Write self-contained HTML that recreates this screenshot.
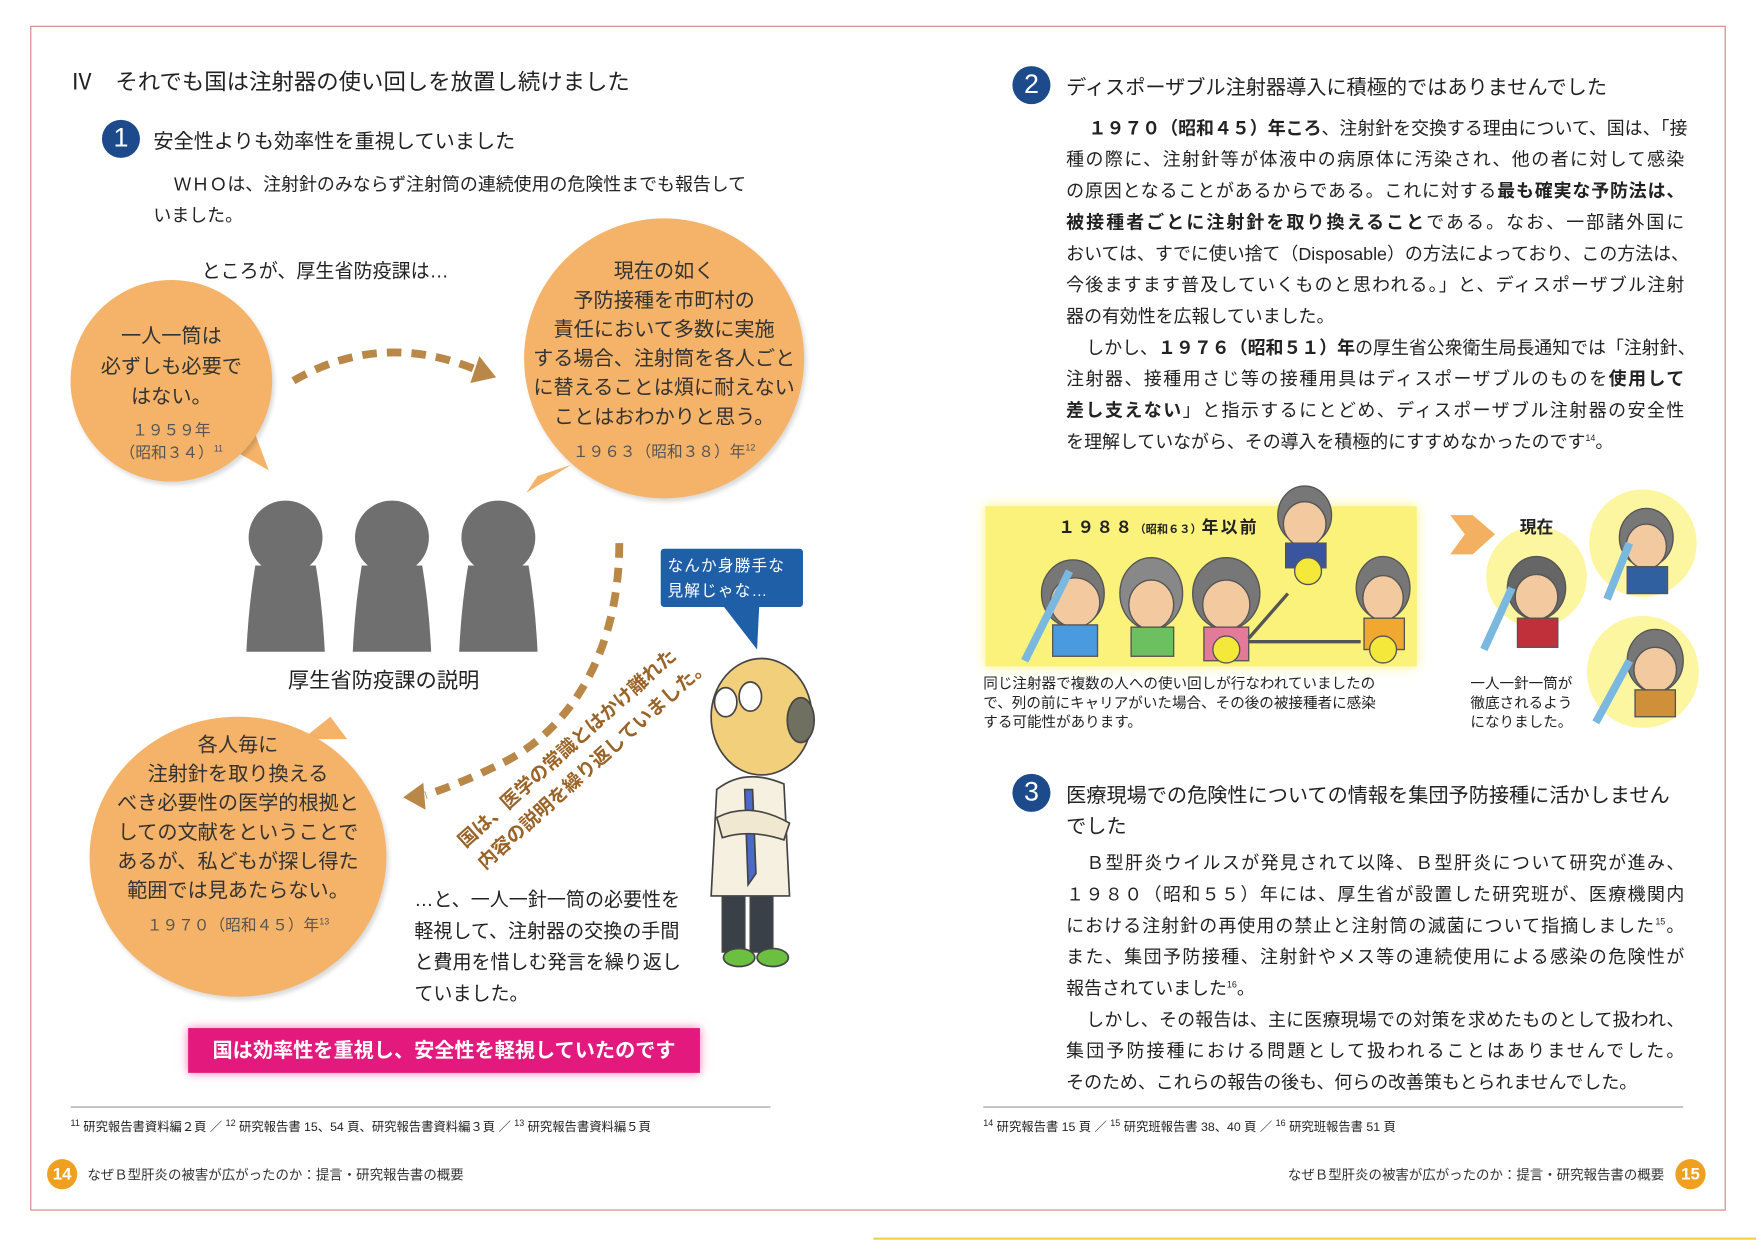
<!DOCTYPE html>
<html><head><meta charset="utf-8">
<style>
html,body{margin:0;padding:0;background:#fff;width:1756px;height:1242px;overflow:hidden}
#p{position:absolute;left:0;top:0;width:1568px;height:1109px;transform:scale(1.1199);transform-origin:0 0;font-family:"Liberation Sans","Noto Sans CJK JP",sans-serif;color:#222}
.a{position:absolute;white-space:nowrap}
.num{position:absolute;width:34px;height:34px;border-radius:50%;background:#1d4a8a;color:#fff;font-size:24px;text-align:center;line-height:34px}
.ln{position:absolute;left:952px;width:552px;font-size:16px;white-space:nowrap;text-align:justify;text-align-last:justify;height:28px;line-height:28px}
sup{line-height:0}
.b{font-weight:bold}
.bub{position:absolute;border-radius:50%;background:#f4b368;box-shadow:2px 3px 4px rgba(0,0,0,.15);text-align:center;color:#333}
</style></head><body><div id="p">
<div style="position:absolute;left:27px;top:23px;width:1512px;height:1056px;border:1px solid #d88080"></div>
<div style="position:absolute;left:780px;top:1105px;width:788px;height:2px;background:#f0d24a"></div>

<div class="a" style="left:63px;top:57px;font-size:20px;color:#222">Ⅳ　それでも国は注射器の使い回しを放置し続けました</div>
<div class="num" style="left:91px;top:107px">1</div>
<div class="a" style="left:137px;top:112px;font-size:18px">安全性よりも効率性を重視していました</div>
<div class="a" style="left:155px;top:152px;font-size:16px;line-height:28px">ＷＨＯは、注射針のみならず注射筒の連続使用の危険性までも報告して</div>
<div class="a" style="left:137px;top:180px;font-size:16px;line-height:28px">いました。</div>
<div class="a" style="left:180px;top:228px;font-size:17px">ところが、厚生省防疫課は…</div>

<svg class="a" style="left:0;top:0" width="780" height="1000">
<g fill="#f4b368">
<polygon points="205,400 240,420 225,380"/>
<polygon points="480,425 470,440 510,415"/>
<polygon points="295,640 310,660 270,660"/>
</g>
<g fill="none" stroke="#b98848" stroke-width="7" stroke-dasharray="13 9">
<path d="M262,340 Q340,295 425,330"/>
<path d="M553,485 C553,575 515,645 455,678 C420,696 395,705 380,710"/>
</g>
<polygon points="443,337 428,318 420,342" fill="#b98848"/>
<polygon points="360,712 378,699 380,723" fill="#b98848"/>
<g fill="#6f6f6f">
<circle cx="255" cy="480" r="33"/><path d="M228,505 Q222,540 220,582 H290 Q288,540 282,505 Z"/>
<circle cx="350" cy="480" r="33"/><path d="M323,505 Q317,540 315,582 H385 Q383,540 377,505 Z"/>
<circle cx="445" cy="480" r="33"/><path d="M418,505 Q412,540 410,582 H480 Q478,540 472,505 Z"/>
</g>
<polygon points="645,540 678,540 676,580" fill="#1e5fa8"/>
<g stroke="#444" stroke-width="1.5">
<rect x="645" y="770" width="20" height="80" fill="#3a4048"/>
<rect x="670" y="770" width="20" height="80" fill="#3a4048"/>
<ellipse cx="660" cy="855" rx="14" ry="8" fill="#6cc040"/>
<ellipse cx="690" cy="855" rx="14" ry="8" fill="#6cc040"/>
<path d="M640,705 Q665,685 700,700 L705,800 L635,800 Z" fill="#f5f0e0"/>
<path d="M665,705 L672,705 L675,780 L668,790 Z" fill="#4a6ac8"/>
<path d="M640,730 Q670,715 705,735 L700,750 Q670,740 645,748 Z" fill="#f0e8d0"/>
<ellipse cx="680" cy="640" rx="45" ry="52" fill="#f2cf7a"/>
<ellipse cx="715" cy="643" rx="12" ry="20" fill="#707060"/>
<ellipse cx="648" cy="627" rx="10" ry="13" fill="#fff"/>
<ellipse cx="670" cy="622" rx="10" ry="13" fill="#fff"/>
</g>
</svg>

<div class="bub" style="left:63px;top:250px;width:180px;height:180px">
<div style="padding-top:37px;font-size:18px;line-height:27px">一人一筒は<br>必ずしも必要で<br>はない。</div>
<div style="font-size:14px;line-height:20px;margin-top:6px;color:#555">１９５９年<br>（昭和３４）<sup style="font-size:8px">11</sup></div></div>
<div class="bub" style="left:468px;top:195px;width:250px;height:250px">
<div style="padding-top:34px;font-size:18px;line-height:26px">現在の如く<br>予防接種を市町村の<br>責任において多数に実施<br>する場合、注射筒を各人ごと<br>に替えることは煩に耐えない<br>ことはおわかりと思う。</div>
<div style="font-size:14px;margin-top:8px;color:#555">１９６３（昭和３８）年<sup style="font-size:8px">12</sup></div></div>
<div class="bub" style="left:80px;top:640px;width:265px;height:250px">
<div style="padding-top:12px;font-size:18px;line-height:26px">各人毎に<br>注射針を取り換える<br>べき必要性の医学的根拠と<br>しての文献をということで<br>あるが、私どもが探し得た<br>範囲では見あたらない。</div>
<div style="font-size:14px;margin-top:8px;color:#555">１９７０（昭和４５）年<sup style="font-size:8px">13</sup></div></div>

<div class="a" style="left:257px;top:593px;font-size:19px">厚生省防疫課の説明</div>
<div class="a" style="left:590px;top:490px;width:127px;height:52px;background:#1e5fa8;border-radius:3px;color:#fff;font-size:14px;line-height:22px;padding:4px 0 0 6px;box-sizing:border-box;letter-spacing:1px">なんか身勝手な<br>見解じゃな…</div>
<div class="a" style="left:388px;top:652px;width:256px;transform:rotate(-42deg);transform-origin:50% 50%;color:#9a6428;font-size:17px;font-weight:bold;line-height:26px;text-align:left">国は、医学の常識とはかけ離れた<br>内容の説明を繰り返していました。</div>

<div class="a" style="left:370px;top:790px;font-size:17px;line-height:28px">…と、一人一針一筒の必要性を<br>軽視して、注射器の交換の手間<br>と費用を惜しむ発言を繰り返し<br>ていました。</div>
<div class="a" style="left:168px;top:918px;width:457px;height:40px;background:#e3197e;box-shadow:0 0 8px #f07ab8;color:#fff;font-size:18px;font-weight:bold;line-height:40px;text-align:center">国は効率性を重視し、安全性を軽視していたのです</div>

<div class="a" style="left:63px;top:988px;width:625px;height:1px;background:#999"></div>
<div class="a" style="left:63px;top:998px;font-size:11px"><sup style="font-size:8px">11</sup> 研究報告書資料編２頁 ／ <sup style="font-size:8px">12</sup> 研究報告書 15、54 頁、研究報告書資料編３頁 ／ <sup style="font-size:8px">13</sup> 研究報告書資料編５頁</div>
<div class="a" style="left:42px;top:1035px;width:27px;height:27px;border-radius:50%;background:#f0a020;color:#fff;font-size:15px;font-weight:bold;text-align:center;line-height:27px">14</div>
<div class="a" style="left:78px;top:1040px;font-size:12px;color:#333">なぜＢ型肝炎の被害が広がったのか：提言・研究報告書の概要</div>

<div class="num" style="left:904px;top:59px">2</div>
<div class="a" style="left:952px;top:64px;font-size:18px">ディスポーザブル注射器導入に積極的ではありませんでした</div>
<div class="ln" style="top:102px;left:972px;width:532px"><span class="b">１９７０（昭和４５）年ころ</span>、注射針を交換する理由について、国は、「接</div>
<div class="ln" style="top:130px">種の際に、注射針等が体液中の病原体に汚染され、他の者に対して感染</div>
<div class="ln" style="top:158px">の原因となることがあるからである。これに対する<span class="b">最も確実な予防法は、</span></div>
<div class="ln" style="top:186px"><span class="b">被接種者ごとに注射針を取り換えること</span>である。なお、一部諸外国に</div>
<div class="ln" style="top:214px">おいては、すでに使い捨て（Disposable）の方法によっており、この方法は、</div>
<div class="ln" style="top:242px">今後ますます普及していくものと思われる。」と、ディスポーザブル注射</div>
<div class="ln" style="top:270px;text-align-last:left">器の有効性を広報していました。</div>
<div class="ln" style="top:298px;left:970px;width:534px">しかし、<span class="b">１９７６（昭和５１）年</span>の厚生省公衆衛生局長通知では「注射針、</div>
<div class="ln" style="top:326px">注射器、接種用さじ等の接種用具はディスポーザブルのものを<span class="b">使用して</span></div>
<div class="ln" style="top:354px"><span class="b">差し支えない</span>」と指示するにとどめ、ディスポーザブル注射器の安全性</div>
<div class="ln" style="top:382px;text-align-last:left">を理解していながら、その導入を積極的にすすめなかったのです<sup style="font-size:8px">14</sup>。</div>

<div class="a" style="left:880px;top:452px;width:385px;height:143px;background:#fbf27c;box-shadow:0 0 10px #fbf27c"></div>
<div class="a" style="left:945px;top:460px;font-size:15px;font-weight:bold;letter-spacing:2px">１９８８<span style="font-size:10px;letter-spacing:0">（昭和６３）</span>年以前</div>
<svg class="a" style="left:870px;top:430px" width="700" height="230">
<g stroke="#555" stroke-width="1.2">
<ellipse cx="88" cy="100" rx="28" ry="30" fill="#777"/><ellipse cx="90" cy="108" rx="22" ry="22" fill="#f3c9a0"/><rect x="70" y="128" width="40" height="28" fill="#4a9ae0"/>
<ellipse cx="158" cy="100" rx="28" ry="32" fill="#888"/><ellipse cx="158" cy="110" rx="20" ry="22" fill="#f3c9a0"/><rect x="140" y="130" width="38" height="26" fill="#6cc060"/>
<ellipse cx="225" cy="100" rx="30" ry="32" fill="#777"/><ellipse cx="225" cy="110" rx="21" ry="22" fill="#f3c9a0"/><rect x="205" y="130" width="40" height="30" fill="#e37a9a"/>
<ellipse cx="295" cy="30" rx="24" ry="26" fill="#777"/><ellipse cx="295" cy="38" rx="19" ry="20" fill="#f3c9a0"/><rect x="278" y="55" width="36" height="22" fill="#3a55a0"/>
<ellipse cx="365" cy="95" rx="24" ry="28" fill="#777"/><ellipse cx="365" cy="104" rx="18" ry="20" fill="#f3c9a0"/><rect x="348" y="122" width="36" height="28" fill="#f0a830"/>
<circle cx="225" cy="150" r="12" fill="#f4e83a"/><circle cx="298" cy="80" r="12" fill="#f4e83a"/><circle cx="365" cy="150" r="12" fill="#f4e83a"/>
<line x1="45" y1="160" x2="85" y2="80" stroke="#7ab8e0" stroke-width="7"/>
</g>
<line x1="245" y1="140" x2="280" y2="100" stroke="#555" stroke-width="3"/>
<line x1="245" y1="143" x2="345" y2="143" stroke="#555" stroke-width="3"/>
<polygon points="425,30 445,30 465,47 445,65 425,65 438,47" fill="#f2b060"/>
<circle cx="502" cy="85" r="45" fill="#fdf6a0"/><circle cx="597" cy="55" r="48" fill="#fdf6a0"/><circle cx="597" cy="170" r="50" fill="#fdf6a0"/>
<g stroke="#555" stroke-width="1.2">
<ellipse cx="502" cy="95" rx="26" ry="28" fill="#666"/><ellipse cx="502" cy="103" rx="19" ry="20" fill="#f3c9a0"/><rect x="485" y="122" width="36" height="26" fill="#c0303a"/>
<ellipse cx="600" cy="50" rx="24" ry="26" fill="#777"/><ellipse cx="600" cy="58" rx="18" ry="20" fill="#f3c9a0"/><rect x="583" y="76" width="36" height="24" fill="#3060a0"/>
<ellipse cx="608" cy="160" rx="25" ry="28" fill="#777"/><ellipse cx="608" cy="168" rx="19" ry="20" fill="#f3c9a0"/><rect x="590" y="186" width="36" height="24" fill="#d0903a"/>
<line x1="455" y1="150" x2="480" y2="95" stroke="#7ab8e0" stroke-width="7"/>
<line x1="565" y1="105" x2="585" y2="55" stroke="#7ab8e0" stroke-width="7"/>
<line x1="555" y1="215" x2="585" y2="160" stroke="#7ab8e0" stroke-width="7"/>
</g>
</svg>
<div class="a" style="left:1357px;top:460px;font-size:15px;font-weight:bold">現在</div>
<div class="a" style="left:878px;top:602px;font-size:13px;line-height:17px">同じ注射器で複数の人への使い回しが行なわれていましたの<br>で、列の前にキャリアがいた場合、その後の被接種者に感染<br>する可能性があります。</div>
<div class="a" style="left:1313px;top:602px;font-size:13px;line-height:17px">一人一針一筒が<br>徹底されるよう<br>になりました。</div>

<div class="num" style="left:904px;top:691px">3</div>
<div class="a" style="left:952px;top:696px;font-size:18px;line-height:28px">医療現場での危険性についての情報を集団予防接種に活かしません<br>でした</div>
<div class="ln" style="top:758px;left:970px;width:534px">Ｂ型肝炎ウイルスが発見されて以降、Ｂ型肝炎について研究が進み、</div>
<div class="ln" style="top:786px">１９８０（昭和５５）年には、厚生省が設置した研究班が、医療機関内</div>
<div class="ln" style="top:814px">における注射針の再使用の禁止と注射筒の滅菌について指摘しました<sup style="font-size:8px">15</sup>。</div>
<div class="ln" style="top:842px">また、集団予防接種、注射針やメス等の連続使用による感染の危険性が</div>
<div class="ln" style="top:870px;text-align-last:left">報告されていました<sup style="font-size:8px">16</sup>。</div>
<div class="ln" style="top:898px;left:970px;width:534px">しかし、その報告は、主に医療現場での対策を求めたものとして扱われ、</div>
<div class="ln" style="top:926px">集団予防接種における問題として扱われることはありませんでした。</div>
<div class="ln" style="top:954px;text-align-last:left">そのため、これらの報告の後も、何らの改善策もとられませんでした。</div>

<div class="a" style="left:878px;top:988px;width:625px;height:1px;background:#999"></div>
<div class="a" style="left:878px;top:998px;font-size:11px"><sup style="font-size:8px">14</sup> 研究報告書 15 頁 ／ <sup style="font-size:8px">15</sup> 研究班報告書 38、40 頁 ／ <sup style="font-size:8px">16</sup> 研究班報告書 51 頁</div>
<div class="a" style="left:1150px;top:1040px;font-size:12px;color:#333">なぜＢ型肝炎の被害が広がったのか：提言・研究報告書の概要</div>
<div class="a" style="left:1496px;top:1035px;width:27px;height:27px;border-radius:50%;background:#f0a020;color:#fff;font-size:15px;font-weight:bold;text-align:center;line-height:27px">15</div>
</div></body></html>
